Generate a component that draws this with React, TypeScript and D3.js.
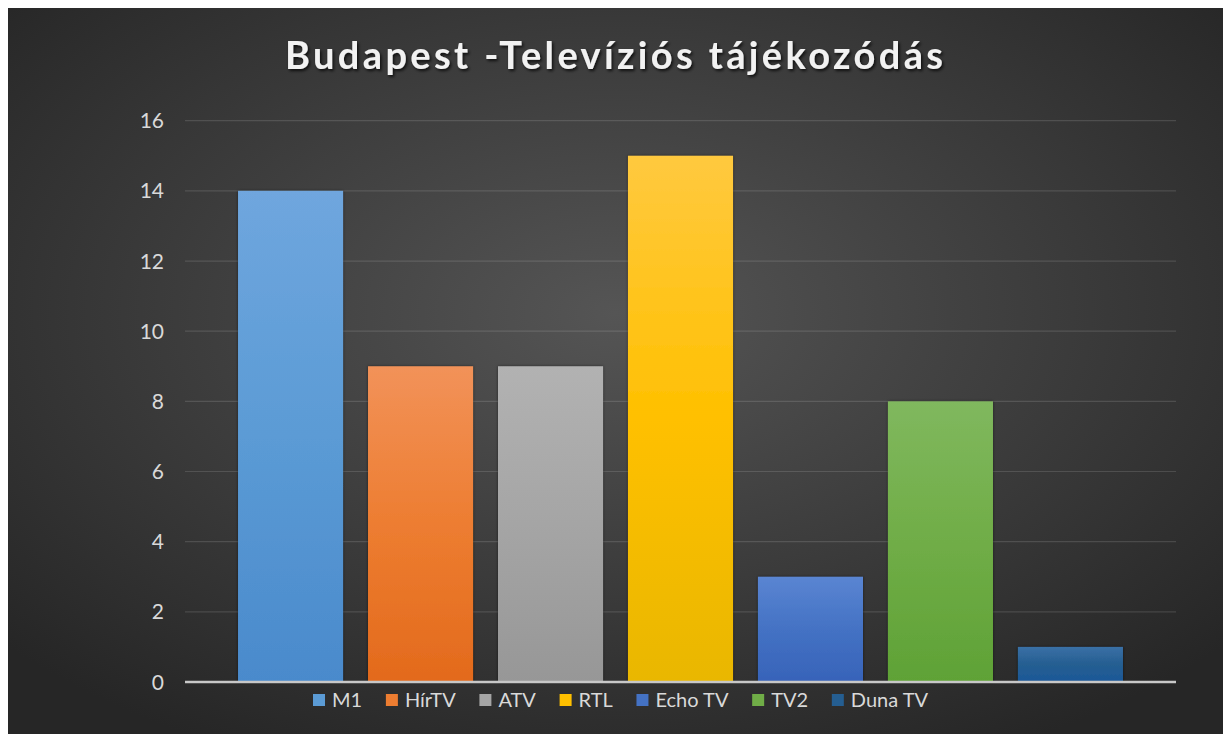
import React, { useRef, useEffect } from 'react';
import * as d3 from 'd3';

// Chart data
const channels = ['M1', 'HírTV', 'ATV', 'RTL', 'Echo TV', 'TV2', 'Duna TV'];
const viewers = [14, 9, 9, 15, 3, 8, 1];
const yTicks = [0, 2, 4, 6, 8, 10, 12, 14, 16];
const title = 'Budapest -Televíziós tájékozódás';

// Office-style colours (top, base, bottom)
const colors = [
  ['#6fa6de', '#5b9bd5', '#4a8acc'],
  ['#f29259', '#ed7d31', '#e36a1c'],
  ['#b2b2b2', '#a5a5a5', '#979797'],
  ['#ffc93f', '#ffc000', '#e9b700'],
  ['#5a85d2', '#4472c4', '#3763b9'],
  ['#80b85e', '#70ad47', '#5fa236'],
  ['#3a70a6', '#255e91', '#1c5898'],
];

const W = 1215;
const H = 726;
const FONT = 'Lato, "Open Sans", sans-serif';

const App = () => {
  const ref = useRef<SVGSVGElement>(null);

  useEffect(() => {
    const svg = d3.select(ref.current);
    svg.selectAll('*').remove();

    // coordinates below are in page pixels, svg sits at (8,8)
    const root = svg.append('g').attr('transform', 'translate(-8,-8)');
    const defs = svg.append('defs');

    // background gradient
    const bg = defs
      .append('radialGradient')
      .attr('id', 'bg')
      .attr('cx', '50%')
      .attr('cy', '42%')
      .attr('r', '68%');
    bg.append('stop').attr('offset', '0%').attr('stop-color', '#555555');
    bg.append('stop').attr('offset', '100%').attr('stop-color', '#262626');

    colors.forEach((c, i) => {
      const g = defs
        .append('linearGradient')
        .attr('id', `bar${i}`)
        .attr('x1', 0)
        .attr('y1', 0)
        .attr('x2', 0)
        .attr('y2', 1);
      g.append('stop').attr('offset', '0%').attr('stop-color', c[0]);
      g.append('stop').attr('offset', '50%').attr('stop-color', c[1]);
      g.append('stop').attr('offset', '100%').attr('stop-color', c[2]);
    });

    const shadow = defs.append('filter').attr('id', 'shadow').attr('x', '-10%').attr('y', '-10%').attr('width', '120%').attr('height', '120%');
    shadow
      .append('feDropShadow')
      .attr('dx', 0)
      .attr('dy', 0)
      .attr('stdDeviation', 1.5)
      .attr('flood-color', '#000')
      .attr('flood-opacity', 0.5);

    const tShadow = defs.append('filter').attr('id', 'tshadow').attr('x', '-5%').attr('y', '-20%').attr('width', '110%').attr('height', '150%');
    tShadow
      .append('feDropShadow')
      .attr('dx', 1.5)
      .attr('dy', 2)
      .attr('stdDeviation', 1.5)
      .attr('flood-color', '#000')
      .attr('flood-opacity', 0.75);

    root
      .append('rect')
      .attr('x', 8)
      .attr('y', 8)
      .attr('width', W)
      .attr('height', H)
      .attr('fill', 'url(#bg)');

    // scales
    const x = d3
      .scaleBand()
      .domain(channels)
      .range([185, 1176])
      .paddingInner(0.192)
      .paddingOuter(0.408);

    const y = d3.scaleLinear().domain([0, 16]).range([682, 120.7]);

    // gridlines
    root
      .append('g')
      .selectAll('line')
      .data(yTicks.filter((d) => d > 0))
      .enter()
      .append('line')
      .attr('x1', 185)
      .attr('x2', 1176)
      .attr('y1', (d) => y(d))
      .attr('y2', (d) => y(d))
      .attr('stroke', '#ffffff')
      .attr('stroke-opacity', 0.13)
      .attr('stroke-width', 1.2);

    // y labels
    root
      .append('g')
      .selectAll('text')
      .data(yTicks)
      .enter()
      .append('text')
      .attr('x', 164)
      .attr('y', (d) => y(d))
      .attr('dy', '0.36em')
      .attr('text-anchor', 'end')
      .attr('fill', '#d9d9d9')
      .style('font-family', FONT)
      .style('font-size', '21px')
      .text((d) => d);

    // bars
    root
      .append('g')
      .selectAll('rect')
      .data(viewers)
      .enter()
      .append('rect')
      .attr('x', (d, i) => x(channels[i]))
      .attr('y', (d) => y(d))
      .attr('width', x.bandwidth())
      .attr('height', (d) => y(0) - y(d))
      .attr('fill', (d, i) => `url(#bar${i})`)
      .attr('filter', 'url(#shadow)');

    // baseline
    root
      .append('line')
      .attr('x1', 185)
      .attr('x2', 1176)
      .attr('y1', y(0))
      .attr('y2', y(0))
      .attr('stroke', '#c8c8c8')
      .attr('stroke-width', 2.5);

    // title
    root
      .append('text')
      .attr('x', 614)
      .attr('y', 68.5)
      .attr('text-anchor', 'middle')
      .attr('fill', '#f2f2f2')
      .attr('textLength', 658)
      .attr('lengthAdjust', 'spacing')
      .attr('filter', 'url(#tshadow)')
      .style('font-family', FONT)
      .style('font-weight', 'bold')
      .style('font-size', '38px')
      .text(title);

    // legend
    const legend = root.append('g');
    const items = legend
      .selectAll('g')
      .data(channels)
      .enter()
      .append('g');
    items
      .append('rect')
      .attr('width', 12)
      .attr('height', 12)
      .attr('y', 694)
      .attr('fill', (d, i) => colors[i][1]);
    items
      .append('text')
      .attr('x', 19)
      .attr('y', 707)
      .attr('fill', '#d9d9d9')
      .style('font-family', FONT)
      .style('font-size', '20px')
      .text((d) => d);

    const widths: number[] = [];
    items.each(function () {
      const t = d3.select(this).select('text').node() as SVGTextElement;
      widths.push(19 + t.getComputedTextLength());
    });
    const legendWidth = 615;
    const gap = Math.max(14, (legendWidth - d3.sum(widths)) / (widths.length - 1));
    const total = d3.sum(widths) + gap * (widths.length - 1);
    let cx = 620.5 - total / 2;
    items.attr('transform', (d, i) => {
      const tx = cx;
      cx += widths[i] + gap;
      return `translate(${tx},0)`;
    });
  }, []);

  return (
    <svg
      ref={ref}
      width={W}
      height={H}
      style={{ position: 'absolute', left: 8, top: 8, display: 'block' }}
    />
  );
};

export default App;
